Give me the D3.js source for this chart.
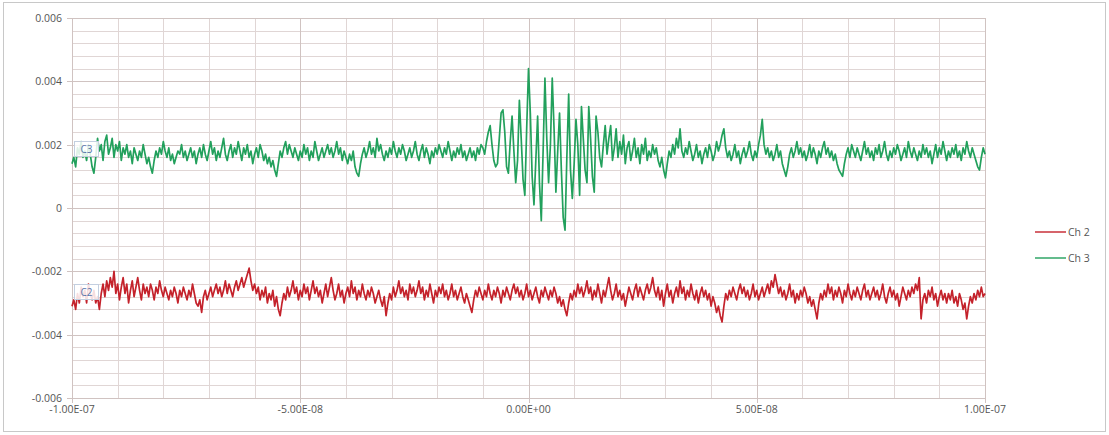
<!DOCTYPE html>
<html><head><meta charset="utf-8">
<script src="https://cdn.jsdelivr.net/npm/d3@7"></script>
<style>body{margin:0;background:#fff}text{font-family:"Open Sans","Liberation Sans",sans-serif}</style>
</head><body><svg id="c" width="1109" height="435"></svg>
<script>
// Sample times: uniform sampling from -1.00E-07 s, step 4E-10 s
const tStart = -1e-7, tStep = 4e-10;
const seriesNames = ["Ch 2", "Ch 3"];
const yTickValues = [0.006, 0.004, 0.002, 0, -0.002, -0.004, -0.006];
const yTickLabels = ["0.006", "0.004", "0.002", "0", "-0.002", "-0.004", "-0.006"];
const xTickValues = [-1e-7, -5e-8, 0, 5e-8, 1e-7];
const xTickLabels = ["-1.00E-07", "-5.00E-08", "0.00E+00", "5.00E-08", "1.00E-07"];
const ch3 = [
.0014,.0016,.0013,.0019,.0017,.0021,.0016,.0018,.0015,.0020,.0017,.0013,.0011,.0016,.0022,.0018,.0020,.0015,.0021,.0023,
.0017,.0019,.0022,.0016,.0020,.0018,.0021,.0015,.0019,.0017,.0020,.0016,.0018,.0014,.0019,.0017,.0015,.0018,.0016,.0020,
.0017,.0014,.0016,.0013,.0011,.0015,.0018,.0016,.0019,.0017,.0021,.0018,.0016,.0019,.0015,.0017,.0014,.0016,.0018,.0017,
.0020,.0016,.0018,.0015,.0017,.0019,.0016,.0018,.0014,.0017,.0019,.0016,.0020,.0017,.0015,.0018,.0021,.0017,.0019,.0015,
.0018,.0016,.0019,.0022,.0017,.0015,.0018,.0020,.0016,.0019,.0017,.0021,.0018,.0015,.0019,.0017,.0020,.0016,.0018,.0014,
.0017,.0019,.0016,.0020,.0018,.0015,.0017,.0014,.0016,.0013,.0015,.0012,.0010,.0014,.0018,.0016,.0019,.0021,.0017,.0020,
.0018,.0016,.0019,.0017,.0015,.0018,.0016,.0020,.0017,.0019,.0015,.0018,.0016,.0021,.0018,.0015,.0017,.0019,.0016,.0018,
.0020,.0017,.0019,.0016,.0018,.0021,.0017,.0019,.0015,.0018,.0016,.0014,.0017,.0015,.0018,.0013,.0011,.0010,.0014,.0017,
.0019,.0016,.0018,.0021,.0017,.0019,.0016,.0022,.0018,.0020,.0017,.0015,.0018,.0016,.0019,.0017,.0021,.0018,.0016,.0019,
.0017,.0020,.0018,.0015,.0017,.0019,.0016,.0018,.0021,.0017,.0015,.0018,.0020,.0016,.0019,.0017,.0014,.0018,.0016,.0019,
.0017,.0020,.0018,.0016,.0019,.0017,.0021,.0018,.0015,.0018,.0016,.0019,.0017,.0020,.0016,.0018,.0015,.0017,.0019,.0016,
.0018,.0015,.0019,.0017,.0020,
.0019,.0017,.0021,.0024,.0026,.0020,.0015,.0013,.0014,.0022,.0030,.0031,.0024,.0013,.0011,.0021,.0029,.0018,.0008,.0015,
.0034,.0022,.0009,.0004,.0025,.0044,.0030,.0010,.0001,.0015,.0029,.0008,-.0004,.0018,.0041,.0022,.0008,.0020,.0041,.0025,
.0005,.0018,.0030,.0012,-.0003,-.0007,.0016,.0036,.0012,.0003,.0014,.0028,.0020,.0004,.0032,.0022,.0012,.0008,.0032,.0022,
.0010,.0005,.0029,.0024,.0016,.0013,.0020,.0026,.0017,.0022,.0026,.0015,.0019,.0025,.0016,.0021,
.0017,.0023,.0014,.0019,.0021,.0015,.0018,.0022,.0016,.0019,.0014,.0020,.0017,.0022,.0015,.0018,.0016,.0020,.0017,.0019,
.0015,.0013,.0016,.0012,.00095,.0014,.0018,.0016,.0020,.0017,.0022,.0019,.0025,.0018,.0016,.0019,.0017,.0021,.0018,.0015,
.0017,.0020,.0016,.0018,.0014,.0017,.0019,.0016,.0020,.0018,.0015,.0017,.0021,.0018,.0020,.0023,.0025,.0019,.0016,.0018,
.0015,.0017,.0020,.0016,.0018,.0014,.0017,.0019,.0016,.0018,.0021,.0017,.0015,.0018,.0016,.0020,.0023,.0028,.0020,.0017,
.0019,.0016,.0018,.0015,.0017,.0020,.0016,.0018,.0014,.0012,.0010,.0013,.0017,.0019,.0016,.0018,.0021,.0017,.0019,.0016,
.0018,.0015,.0017,.0020,.0016,.0019,.0017,.0014,.0018,.0016,.0019,.0021,.0017,.0019,.0016,.0018,.0015,.0017,.0014,.0012,
.0011,.0010,.0014,.0017,.0019,.0016,.0020,.0018,.0016,.0019,.0017,.0015,.0018,.0021,.0017,.0019,.0016,.0018,.0015,.0019,
.0017,.0020,.0016,.0018,.0021,.0017,.0015,.0018,.0016,.0019,.0017,.0020,.0018,.0015,.0017,.0019,.0016,.0021,.0018,.0016,
.0019,.0017,.0015,.0018,.0016,.0020,.0017,.0019,.0016,.0018,.0014,.0017,.0020,.0016,.0019,.0017,.0021,.0018,.0015,.0018,
.0016,.0019,.0017,.0020,.0016,.0018,.0015,.0019,.0017,.0021,.0018,.0016,.0019,.0017,.0015,.0013,.0012,.0016,.0019,.0017
];
const ch2 = [
-.0031,-.0029,-.0032,-.0027,-.0030,-.0025,-.0028,-.0026,-.0030,-.0024,-.0027,-.0029,-.0026,-.0030,-.0028,-.0032,-.0027,-.0024,-.0028,-.0023,
-.0026,-.0022,-.0025,-.0020,-.0027,-.0024,-.0029,-.0025,-.0022,-.0027,-.0024,-.0030,-.0026,-.0023,-.0028,-.0025,-.0022,-.0026,-.0029,-.0024,
-.0027,-.0025,-.0028,-.0024,-.0026,-.0029,-.0025,-.0027,-.0023,-.0026,-.0028,-.0025,-.0027,-.0029,-.0026,-.0028,-.0025,-.0027,-.0030,-.0026,
-.0028,-.0025,-.0027,-.0029,-.0026,-.0028,-.0024,-.0027,-.0030,-.0031,-.0029,-.0033,-.0028,-.0026,-.0029,-.0027,-.0025,-.0028,-.0026,-.0024,
-.0027,-.0025,-.0028,-.0026,-.0023,-.0027,-.0024,-.0026,-.0028,-.0025,-.0023,-.0026,-.0024,-.0022,-.0025,-.0023,-.0021,-.0019,-.0023,-.0026,
-.0024,-.0027,-.0025,-.0029,-.0026,-.0028,-.0025,-.0030,-.0027,-.0029,-.0026,-.0031,-.0028,-.0032,-.0034,-.0030,-.0027,-.0029,-.0025,-.0028,
-.0026,-.0023,-.0027,-.0025,-.0029,-.0026,-.0028,-.0024,-.0027,-.0025,-.0029,-.0026,-.0023,-.0027,-.0025,-.0028,-.0026,-.0030,-.0027,-.0024,
-.0028,-.0025,-.0022,-.0026,-.0029,-.0027,-.0024,-.0028,-.0026,-.0030,-.0027,-.0025,-.0028,-.0023,-.0027,-.0025,-.0029,-.0026,-.0028,-.0024,
-.0027,-.0029,-.0026,-.0028,-.0025,-.0027,-.0030,-.0028,-.0026,-.0029,-.0031,-.0028,-.0034,-.0030,-.0027,-.0029,-.0025,-.0028,-.0026,-.0023,
-.0027,-.0025,-.0028,-.0026,-.0029,-.0024,-.0027,-.0025,-.0028,-.0026,-.0023,-.0027,-.0025,-.0029,-.0026,-.0028,-.0024,-.0027,-.0030,-.0026,
-.0028,-.0025,-.0027,-.0024,-.0028,-.0026,-.0029,-.0027,-.0024,-.0028,-.0026,-.0029,-.0027,-.0025,-.0028,-.0030,-.0027,-.0029,-.0031,-.0033,
-.0029,-.0026,-.0028,-.0025,-.0027,-.0029,-.0026,-.0028,-.0024,-.0027,-.0029,-.0026,-.0028,-.0025,-.0027,-.0030,-.0026,-.0028,-.0025,-.0027,
-.0029,-.0026,-.0024,-.0027,-.0025,-.0028,-.0026,-.0029,-.0027,-.0024,-.0028,-.0026,-.0029,-.0027,-.0025,-.0028,-.0030,-.0026,-.0028,-.0025,
-.0027,-.0029,-.0026,-.0028,-.0025,-.0027,-.0030,-.0028,-.0031,-.0029,-.0032,-.0034,-.0030,-.0027,-.0029,-.0026,-.0028,-.0024,-.0027,-.0025,
-.0028,-.0026,-.0023,-.0027,-.0025,-.0029,-.0026,-.0028,-.0024,-.0027,-.0030,-.0026,-.0028,-.0025,-.0022,-.0026,-.0029,-.0027,-.0024,-.0028,
-.0026,-.0029,-.0027,-.0031,-.0028,-.0025,-.0027,-.0029,-.0026,-.0024,-.0028,-.0025,-.0027,-.0029,-.0026,-.0024,-.0027,-.0025,-.0022,-.0026,
-.0028,-.0025,-.0029,-.0026,-.0031,-.0027,-.0024,-.0028,-.0026,-.0030,-.0027,-.0025,-.0028,-.0023,-.0027,-.0025,-.0029,-.0026,-.0028,-.0024,
-.0027,-.0029,-.0026,-.0030,-.0027,-.0025,-.0028,-.0026,-.0029,-.0027,-.0031,-.0028,-.0030,-.0033,-.0031,-.0034,-.0036,-.0031,-.0027,-.0029,
-.0026,-.0028,-.0025,-.0027,-.0029,-.0026,-.0024,-.0027,-.0025,-.0028,-.0026,-.0029,-.0027,-.0024,-.0028,-.0026,-.0029,-.0027,-.0025,-.0028,
-.0026,-.0024,-.0027,-.0023,-.0025,-.0021,-.0024,-.0027,-.0025,-.0028,-.0026,-.0029,-.0027,-.0024,-.0028,-.0026,-.0030,-.0027,-.0029,-.0026,
-.0028,-.0025,-.0027,-.0030,-.0028,-.0031,-.0029,-.0032,-.0035,-.0030,-.0027,-.0029,-.0026,-.0028,-.0024,-.0027,-.0025,-.0029,-.0026,-.0028,
-.0025,-.0027,-.0030,-.0026,-.0028,-.0024,-.0027,-.0029,-.0026,-.0028,-.0025,-.0027,-.0029,-.0026,-.0024,-.0028,-.0026,-.0029,-.0027,-.0025,
-.0028,-.0026,-.0029,-.0027,-.0024,-.0028,-.0030,-.0027,-.0025,-.0028,-.0026,-.0029,-.0027,-.0031,-.0028,-.0025,-.0027,-.0029,-.0026,-.0028,
-.0025,-.0027,-.0024,-.0026,-.0022,-.0035,-.0029,-.0027,-.0030,-.0026,-.0028,-.0025,-.0029,-.0027,-.0031,-.0028,-.0026,-.0029,-.0027,-.0030,
-.0027,-.0029,-.0026,-.0030,-.0028,-.0031,-.0027,-.0029,-.0032,-.0030,-.0035,-.0031,-.0028,-.0030,-.0027,-.0029,-.0026,-.0028,-.0025,-.0028,
-.0027
];
const colors = {"Ch 2": "#c4222b", "Ch 3": "#22a05c"};

const svg = d3.select("#c");
const L = 72, R = 985, T = 18, B = 398;
const x = d3.scaleLinear().domain([-1e-7, 1e-7]).range([L, R]);
const y = d3.scaleLinear().domain([-0.006, 0.006]).range([B, T]);

// outer frame
svg.append("rect").attr("x", 3.5).attr("y", 2.5).attr("width", 1102).attr("height", 429)
  .attr("fill", "#fff").attr("stroke", "#c8c8c8");

// gridlines
const g = svg.append("g");
const yMinor = d3.range(-0.006, 0.00601, 0.0004);
const xMinor = d3.range(-1e-7, 1.0001e-7, 1e-8);
g.selectAll(".hy").data(yMinor).join("line")
  .attr("x1", L).attr("x2", R).attr("y1", d => Math.round(y(d)) + 0.5).attr("y2", d => Math.round(y(d)) + 0.5)
  .attr("stroke", "#e0d6d5").attr("stroke-width", 1);
g.selectAll(".vx").data(xMinor).join("line")
  .attr("y1", T).attr("y2", B).attr("x1", d => Math.round(x(d)) + 0.5).attr("x2", d => Math.round(x(d)) + 0.5)
  .attr("stroke", "#e0d6d5").attr("stroke-width", 1);
g.selectAll(".hmaj").data(yTickValues).join("line")
  .attr("x1", L - 5).attr("x2", R).attr("y1", d => Math.round(y(d)) + 0.5).attr("y2", d => Math.round(y(d)) + 0.5)
  .attr("stroke", "#d0c3c1").attr("stroke-width", 1);
g.selectAll(".vmaj").data(xTickValues).join("line")
  .attr("y1", T).attr("y2", B + 5).attr("x1", d => Math.round(x(d)) + 0.5).attr("x2", d => Math.round(x(d)) + 0.5)
  .attr("stroke", "#d0c3c1").attr("stroke-width", 1);

// axes labels
svg.selectAll(".yl").data(yTickValues).join("text")
  .attr("x", 62).attr("y", d => y(d) + 4).attr("text-anchor", "end")
  .attr("font-size", 10.5).attr("fill", "#555").text((d, i) => yTickLabels[i]);
svg.selectAll(".xl").data(xTickValues).join("text")
  .attr("x", d => x(d)).attr("y", 413).attr("text-anchor", "middle")
  .attr("font-size", 10.5).attr("fill", "#555").text((d, i) => xTickLabels[i]);

// series
const line = d3.line().x((d, i) => x(tStart + i * tStep)).y(d => y(d));
[["Ch 2", ch2], ["Ch 3", ch3]].forEach(([name, data]) => {
  svg.append("path").datum(data).attr("d", line).attr("fill", "none")
    .attr("stroke", colors[name]).attr("stroke-width", 1.7).attr("stroke-linejoin", "round");
});

// channel callouts
[["C3", 141], ["C2", 284]].forEach(([t, yy]) => {
  svg.append("rect").attr("x", 74.5).attr("y", yy + 0.5).attr("width", 24).attr("height", 15)
    .attr("fill", "#fff").attr("fill-opacity", 0.85).attr("stroke", "#c3cfe0");
  svg.append("text").attr("x", 86.5).attr("y", yy + 12).attr("text-anchor", "middle")
    .attr("font-size", 10).attr("fill", "#5a78ad").text(t);
});

// legend
seriesNames.forEach((name, i) => {
  const ly = 232 + i * 26;
  svg.append("line").attr("x1", 1035).attr("x2", 1066).attr("y1", ly).attr("y2", ly)
    .attr("stroke", colors[name]).attr("stroke-width", 1.4);
  svg.append("text").attr("x", 1068).attr("y", ly + 4).attr("font-size", 10.5)
    .attr("fill", "#555").text(name);
});
</script></body></html>
